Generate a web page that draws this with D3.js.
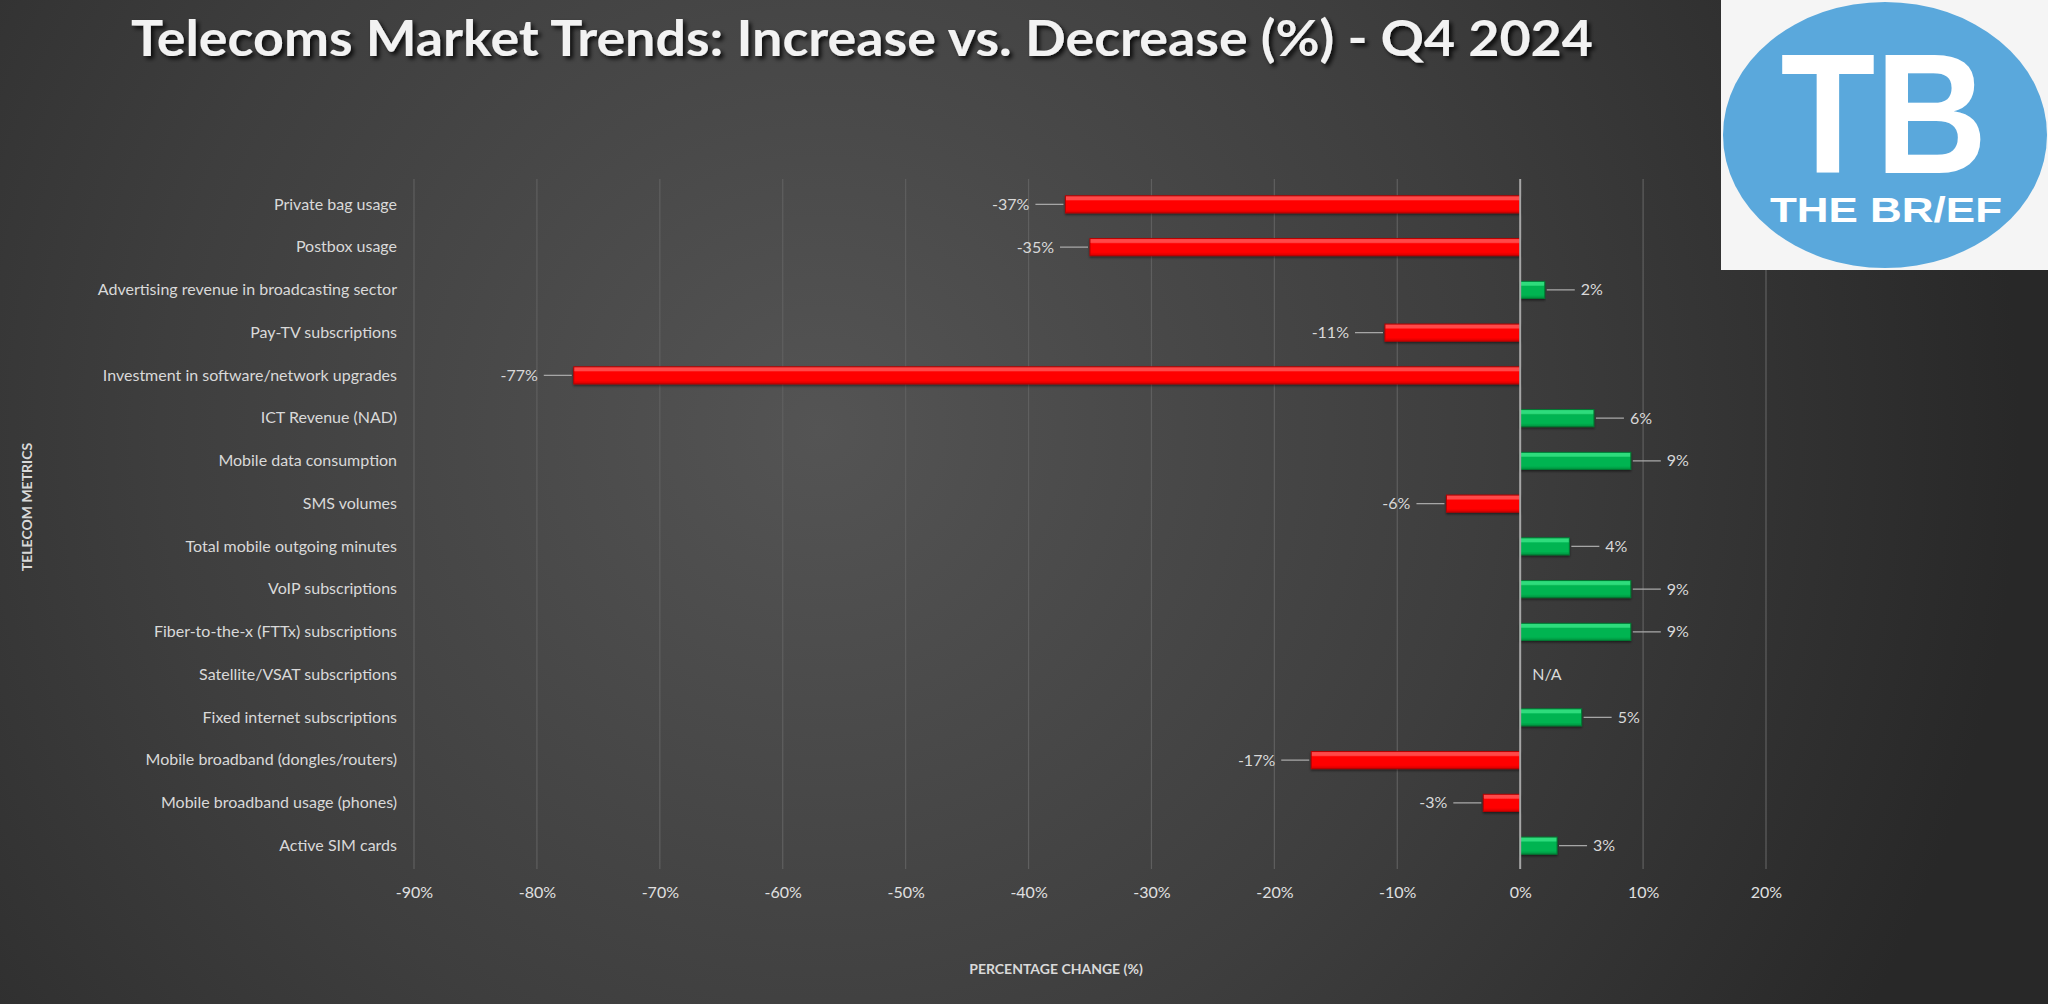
<!DOCTYPE html>
<html>
<head>
<meta charset="utf-8">
<script src="https://cdn.jsdelivr.net/npm/d3@7"></script>
<style>
    body { margin: 0; background: #2b2b2b; overflow: hidden; }
    text { font-family: Lato, "Open Sans", sans-serif; }
</style>
</head>
<body>
<div id="Graph"></div>
<script>
var metrics = [
    "Private bag usage",
    "Postbox usage",
    "Advertising revenue in broadcasting sector",
    "Pay-TV subscriptions",
    "Investment in software/network upgrades",
    "ICT Revenue (NAD)",
    "Mobile data consumption",
    "SMS volumes",
    "Total mobile outgoing minutes",
    "VoIP subscriptions",
    "Fiber-to-the-x (FTTx) subscriptions",
    "Satellite/VSAT subscriptions",
    "Fixed internet subscriptions",
    "Mobile broadband (dongles/routers)",
    "Mobile broadband usage (phones)",
    "Active SIM cards"
];
var changes = [-37, -35, 2, -11, -77, 6, 9, -6, 4, 9, 9, null, 5, -17, -3, 3];
var xTicks = [-90, -80, -70, -60, -50, -40, -30, -20, -10, 0, 10, 20];

var chartTitle = "Telecoms Market Trends: Increase vs. Decrease (%) - Q4 2024";
var xTitle = "PERCENTAGE CHANGE (%)";
var yTitle = "TELECOM METRICS";

var width = 2048, height = 1004;
var plot = {left: 414, right: 1766, top: 179, bottom: 869};

var svg = d3.select("#Graph").append("svg")
    .attr("width", width)
    .attr("height", height);

var defs = svg.append("defs");

//background gradient
var bg = defs.append("radialGradient").attr("id", "bgGrad")
    .attr("gradientUnits", "userSpaceOnUse")
    .attr("cx", 820).attr("cy", 430).attr("r", 1200);
bg.append("stop").attr("offset", "0").attr("stop-color", "#545454");
bg.append("stop").attr("offset", "0.55").attr("stop-color", "#3e3e3e");
bg.append("stop").attr("offset", "1").attr("stop-color", "#282828");

//bevel gradients for bars
function bevel(id, top, mid, bottom) {
    var g = defs.append("linearGradient").attr("id", id)
        .attr("x1", 0).attr("y1", 0).attr("x2", 0).attr("y2", 1);
    g.append("stop").attr("offset", "0").attr("stop-color", top);
    g.append("stop").attr("offset", "0.22").attr("stop-color", top);
    g.append("stop").attr("offset", "0.3").attr("stop-color", mid);
    g.append("stop").attr("offset", "0.8").attr("stop-color", mid);
    g.append("stop").attr("offset", "1").attr("stop-color", bottom);
}
bevel("redGrad", "#ff4a4a", "#ff0000", "#d40000");
bevel("greenGrad", "#2fdc7c", "#00b451", "#00913f");

var shadow = defs.append("filter").attr("id", "titleShadow")
    .attr("x", "-5%").attr("y", "-30%").attr("width", "110%").attr("height", "160%");
shadow.append("feDropShadow").attr("dx", 3).attr("dy", 3).attr("stdDeviation", 2)
    .attr("flood-color", "#000").attr("flood-opacity", 0.8);

var barShadow = defs.append("filter").attr("id", "barShadow")
    .attr("x", "-5%").attr("y", "-30%").attr("width", "110%").attr("height", "180%");
barShadow.append("feDropShadow").attr("dx", 0).attr("dy", 1.5).attr("stdDeviation", 1)
    .attr("flood-color", "#000").attr("flood-opacity", 0.5);

svg.append("rect")
    .attr("width", width).attr("height", height)
    .attr("fill", "url(#bgGrad)");

//scales
var x = d3.scaleLinear()
    .domain([-90, 20])
    .range([plot.left, plot.right]);
var y = d3.scaleBand()
    .domain(metrics)
    .range([183, 867])
    .paddingInner(0.6)
    .paddingOuter(0.3);

//gridlines
svg.append("g").selectAll("line")
    .data(xTicks.filter(function (d) { return d !== 0; }))
    .enter().append("line")
    .attr("x1", function (d) { return x(d); })
    .attr("x2", function (d) { return x(d); })
    .attr("y1", plot.top)
    .attr("y2", plot.bottom)
    .attr("stroke", "#5f5f5f")
    .attr("stroke-width", 1.2);

//x axis labels
var xAxis = svg.append("g")
    .attr("transform", "translate(0," + (plot.bottom + 23) + ")")
    .call(d3.axisBottom(x).tickValues(xTicks).tickSize(0).tickFormat(function (d) { return d + "%"; }));
xAxis.select(".domain").remove();
xAxis.selectAll("text")
    .attr("y", 0)
    .attr("dy", "0.35em")
    .attr("fill", "#e0e0e0")
    .style("font-size", "16px");

//y axis labels
var yAxis = svg.append("g")
    .attr("transform", "translate(" + 397 + ",0)")
    .call(d3.axisLeft(y).tickSize(0).tickPadding(0));
yAxis.select(".domain").remove();
yAxis.selectAll("text")
    .attr("fill", "#d9d9d9")
    .style("font-size", "16px");

//bars
var rows = metrics.map(function (m, i) { return {name: m, value: changes[i]}; });

svg.append("g").selectAll("rect")
    .data(rows.filter(function (d) { return d.value !== null; }))
    .enter().append("rect")
    .attr("x", function (d) { return x(Math.min(0, d.value)); })
    .attr("y", function (d) { return y(d.name); })
    .attr("width", function (d) { return Math.abs(x(d.value) - x(0)); })
    .attr("height", y.bandwidth())
    .attr("fill", function (d) { return d.value < 0 ? "url(#redGrad)" : "url(#greenGrad)"; })
    .attr("stroke", function (d) { return d.value < 0 ? "#b80000" : "#007a33"; })
    .attr("stroke-width", 1)
    .attr("filter", "url(#barShadow)");

//zero line
svg.append("line")
    .attr("x1", x(0)).attr("x2", x(0))
    .attr("y1", plot.top).attr("y2", plot.bottom)
    .attr("stroke", "#a6a6a6")
    .attr("stroke-width", 2);

//data labels with leader lines
var labels = svg.append("g").selectAll("g")
    .data(rows)
    .enter().append("g")
    .attr("transform", function (d) { return "translate(0," + (y(d.name) + y.bandwidth() / 2) + ")"; });

labels.filter(function (d) { return d.value !== null; })
    .append("line")
    .attr("x1", function (d) { return x(d.value) + (d.value < 0 ? -2 : 2); })
    .attr("x2", function (d) { return x(d.value) + (d.value < 0 ? -30 : 30); })
    .attr("stroke", "#a6a6a6")
    .attr("stroke-width", 1.3);

labels.append("text")
    .attr("x", function (d) {
        if (d.value === null) return x(0) + 12;
        return x(d.value) + (d.value < 0 ? -36 : 36);
    })
    .attr("dy", "0.35em")
    .attr("text-anchor", function (d) { return d.value !== null && d.value < 0 ? "end" : "start"; })
    .attr("fill", "#d9d9d9")
    .style("font-size", "16px")
    .text(function (d) { return d.value === null ? "N/A" : d.value + "%"; });

//axis titles
svg.append("text")
    .attr("x", 1056).attr("y", 969)
    .attr("dy", "0.35em")
    .attr("text-anchor", "middle")
    .attr("fill", "#d9d9d9")
    .style("font-size", "14px")
    .style("font-weight", "bold")
    .text(xTitle);

svg.append("text")
    .attr("transform", "translate(27,507) rotate(-90)")
    .attr("dy", "0.35em")
    .attr("text-anchor", "middle")
    .attr("fill", "#d9d9d9")
    .style("font-size", "14px")
    .style("font-weight", "bold")
    .text(yTitle);

//title
svg.append("text")
    .attr("x", 131).attr("y", 56)
    .attr("textLength", 1462)
    .attr("lengthAdjust", "spacingAndGlyphs")
    .attr("fill", "#f2f2f2")
    .attr("filter", "url(#titleShadow)")
    .style("font-size", "50px")
    .style("font-weight", "bold")
    .text(chartTitle);

//logo
var logo = svg.append("g");
logo.append("rect")
    .attr("x", 1721).attr("y", 0)
    .attr("width", 327).attr("height", 270)
    .attr("fill", "#f5f5f5");
logo.append("ellipse")
    .attr("cx", 1885).attr("cy", 135)
    .attr("rx", 162).attr("ry", 133)
    .attr("fill", "#5aa8dc");
logo.append("text")
    .attr("x", 1884).attr("y", 173)
    .attr("text-anchor", "middle")
    .attr("textLength", 207)
    .attr("lengthAdjust", "spacingAndGlyphs")
    .attr("fill", "#ffffff")
    .style("font-family", "'Liberation Sans', Arial, sans-serif")
    .style("font-size", "170px")
    .style("font-weight", "bold")
    .text("TB");
logo.append("text")
    .attr("x", 1886).attr("y", 222)
    .attr("text-anchor", "middle")
    .attr("textLength", 232)
    .attr("lengthAdjust", "spacingAndGlyphs")
    .attr("fill", "#ffffff")
    .style("font-family", "'Liberation Sans', Arial, sans-serif")
    .style("font-size", "35px")
    .style("font-weight", "bold")
    .text("THE BR/EF");
</script>
</body>
</html>
